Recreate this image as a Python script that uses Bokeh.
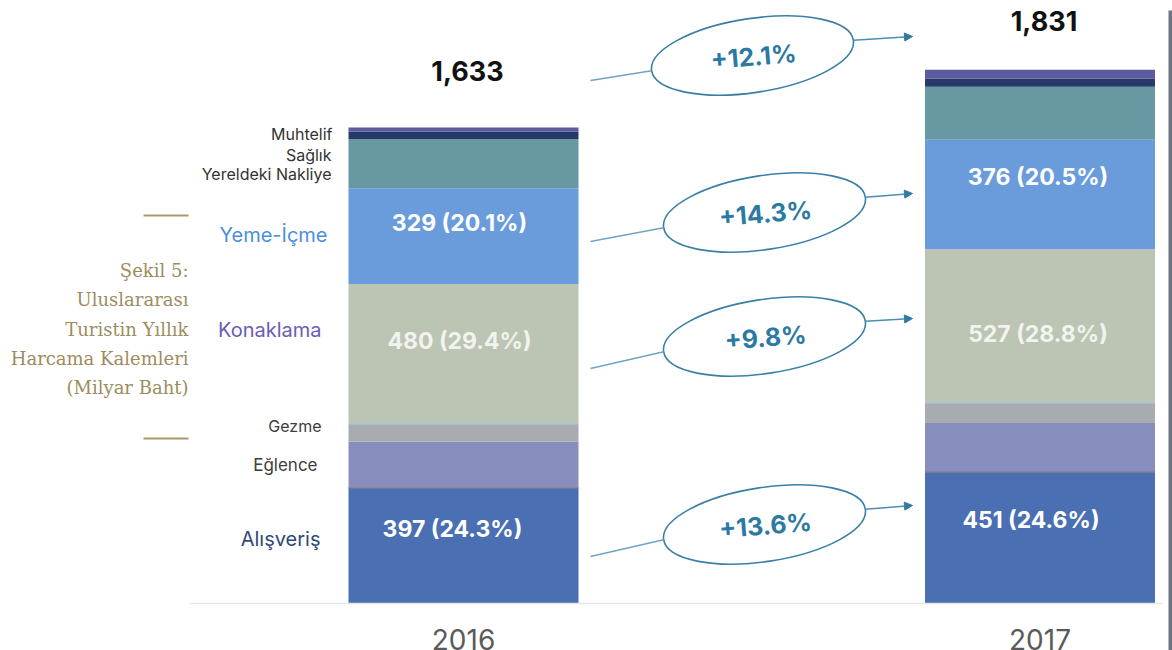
import math
from bokeh.plotting import figure
from bokeh.models import ColumnDataSource, Range1d, Arrow, NormalHead
from bokeh.core.properties import value
from bokeh.embed import file_html
from bokeh.resources import INLINE

# ---------------- data ----------------
years = ["2016", "2017"]
categories = ["Alışveriş", "Eğlence", "Gezme", "Konaklama", "Yeme-İçme",
              "Yereldeki Nakliye", "Sağlık", "Muhtelif"]
alisveris = [397, 451]
eglence = [158, 168]
gezme = [61, 69]
konaklama = [480, 527]
yeme_icme = [329, 376]
nakliye = [168, 182]
saglik = [26, 28]
muhtelif = [14, 30]
series = [alisveris, eglence, gezme, konaklama, yeme_icme, nakliye, saglik, muhtelif]
caption_lines = ["Şekil 5:", "Uluslararası", "Turistin Yıllık",
                 "Harcama Kalemleri", "(Milyar Baht)"]

# ---------------- style ----------------
colors = ["#4a6fb3", "#878dbd", "#a8acb0", "#bcc5b4", "#6a9cdc",
          "#6899a3", "#27396a", "#5a5c9e"]
FONT = value("Inter")

# layout helpers (picture pixel -> data)
X0, DX = 463.0, 576.5
K = 476.0 / 1633.0
def ux(px):
    return (px - X0) / DX
def vy(py):
    return (603.0 - py) / K

W, H = 1172, 650
p = figure(width=W, height=H, x_range=Range1d(ux(0), ux(W)),
           y_range=Range1d(vy(H), vy(0)), toolbar_location=None,
           output_backend="svg", min_border=0, x_axis_location=None,
           y_axis_location=None)
p.grid.visible = False
p.outline_line_color = None
p.background_fill_color = "white"

xs = list(range(len(years)))
data = {"x": xs}
for c, s in zip(categories, series):
    data[c] = s
src = ColumnDataSource(data)
p.vbar_stack(categories, x="x", width=230.0 / DX, color=colors,
             line_color=None, source=src)

# baseline
p.segment(x0=[ux(190)], y0=[0], x1=[ux(1162)], y1=[0],
          line_color="#e3e6ea", line_width=1.5)

totals = [sum(s[i] for s in series) for i in range(len(years))]

# thin separators
for idx, col in [(3, "#a9c8e8"), (1, "#8a7f86")]:
    ys = [sum(s[i] for s in series[:idx]) for i in range(len(years))]
    p.segment(x0=[x - 115 / DX for x in xs], y0=ys,
              x1=[x + 115 / DX for x in xs], y1=ys,
              line_color=col, line_width=1.2)

# total labels
p.text(x=[x + 4 / DX for x in xs], y=totals, text=["{:,}".format(t) for t in totals],
       y_offset=[-57, -49], text_align="center", text_baseline="middle",
       text_font=FONT, text_font_style="bold", text_font_size="27px",
       text_color="#111111")

# year labels
p.text(x=xs, y=[vy(639)] * 2, text=years, text_align="center",
       text_baseline="middle", text_font=FONT, text_font_size="28px",
       text_color="#5a5a5a")

# value labels inside bars
label_idx = [0, 3, 4]
lab_off = {(0, 0): -17, (0, 3): -13, (0, 4): -13,
           (1, 0): -18, (1, 3): 8, (1, 4): -18}
lx, ly, lt, lo, lc = [], [], [], [], []
for i in range(len(years)):
    for j in label_idx:
        base = sum(s[i] for s in series[:j])
        v = series[j][i]
        dx = (-11 if j == 0 else -4) + 2 * i
        lx.append(xs[i] + dx / DX)
        ly.append(base + v / 2)
        lt.append("{} ({:.1f}%)".format(v, 100.0 * v / totals[i]))
        lo.append(lab_off[(i, j)])
        lc.append("#f1f3ee" if j == 3 else "#ffffff")
p.text(x=lx, y=ly, text=lt, y_offset=lo, text_align="center",
       text_baseline="middle", text_font=FONT, text_font_style="bold",
       text_font_size="23px", text_color=lc)

# category labels on the left
cat_px_y = [538, 464, 425, 329, 234, 173, 154, 133]
cat_px_x = [320, 317, 321, 321, 327, 331, 331, 332]
cat_size = ["20px", "17px", "16px", "20px", "20px", "16px", "16px", "16px"]
cat_col = ["#2f4878", "#3d3d3d", "#3d3d3d", "#6a5db5", "#4a8fdb",
           "#333333", "#333333", "#333333"]
p.text(x=[ux(px) for px in cat_px_x], y=[vy(py) for py in cat_px_y],
       text=categories, text_align="right", text_baseline="middle",
       text_font=FONT, text_font_size=cat_size, text_color=cat_col)

# caption
cap_y = [270, 299, 329, 358, 387]
p.text(x=[ux(188)] * len(caption_lines), y=[vy(py) for py in cap_y],
       text=caption_lines, text_align="right", text_baseline="middle",
       text_font=value("DejaVu Serif"), text_font_size="18px",
       text_color="#9c8c5e")
p.segment(x0=[ux(143)] * 2, y0=[vy(215), vy(438)], x1=[ux(188)] * 2,
          y1=[vy(215), vy(438)], line_color="#a8996a", line_width=2)

# growth ellipses
g_pairs = [(totals[0], totals[1]), (yeme_icme[0], yeme_icme[1]),
           (konaklama[0], konaklama[1]), (alisveris[0], alisveris[1])]
g_text = ["+{:.1f}%".format(100.0 * (b / a - 1)) for a, b in g_pairs]
e_cx = [752, 764, 764, 764]
e_cy = [55, 212, 336, 524]
e_start_y = [80, 241, 368, 556]
e_end_y = [36, 193, 318, 505]
EA, EB, ANG = 102.0, 37.0, 0.15
p.ellipse(x=[ux(c) for c in e_cx], y=[vy(c) for c in e_cy],
          width=2 * EA, height=2 * EB, width_units="screen",
          height_units="screen", angle=ANG, fill_color="white",
          line_color="#3a7fa6", line_width=1.6)
p.text(x=[ux(c + 1) for c in e_cx], y=[vy(c + 1) for c in e_cy], text=g_text,
       angle=0.08, text_align="center", text_baseline="middle", text_font=FONT,
       text_font_style="bold", text_font_size="25px", text_color="#2c79a2")
for cx, cy, sy, ey in zip(e_cx, e_cy, e_start_y, e_end_y):
    lxp = cx - EA * math.cos(ANG)
    lyp = cy + EA * math.sin(ANG)
    rxp = cx + EA * math.cos(ANG)
    ryp = cy - EA * math.sin(ANG)
    p.segment(x0=[ux(590)], y0=[vy(sy)], x1=[ux(lxp)], y1=[vy(lyp)],
              line_color="#6ea4c4", line_width=1.3)
    p.add_layout(Arrow(x_start=ux(rxp), y_start=vy(ryp), x_end=ux(912),
                       y_end=vy(ey), line_color="#4b8db3", line_width=1.3,
                       end=NormalHead(size=8, fill_color="#2f7aa0",
                                      line_color="#2f7aa0")))

# screenshot edge strip on the right
p.quad(left=[ux(1168)], right=[ux(1172)], bottom=[vy(650)], top=[vy(10)],
       fill_color="#6e7581", line_color=None)

open("out.html", "w").write(file_html(p, INLINE))
